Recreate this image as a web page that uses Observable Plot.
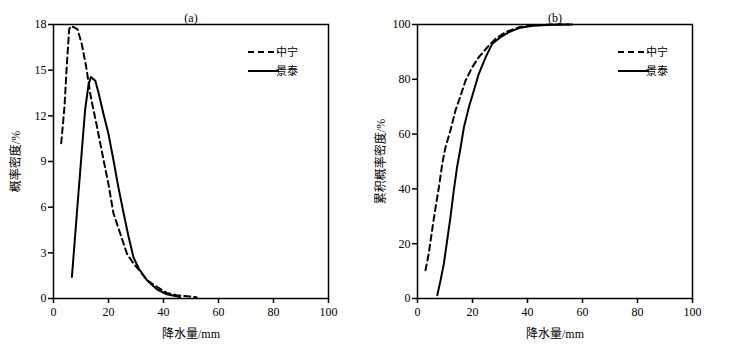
<!DOCTYPE html>
<html><head><meta charset="utf-8">
<script src="https://cdn.jsdelivr.net/npm/d3@7"></script>
<script src="https://cdn.jsdelivr.net/npm/@observablehq/plot@0.6"></script>
<style>
body{margin:0;background:#fff;}
#wrap{display:flex;flex-direction:row;width:744px;height:351px;}
svg, svg text{font-family:"Liberation Serif","Noto Sans CJK SC",serif !important;}
svg text{fill:#000;}
</style></head>
<body><div id="wrap"></div>
<script>
// Panel (a): probability density (%)
const pdfZnX = [2.8,4,4.8,5.7,6.4,8.7,10.3,11.9,13.6,15.8,18.2,20,21.8,24.2,26.7,29.1,31,34,37.6,41.2,44.8,48.5,52];
const pdfZnY = [10.2,12.6,15.2,17.7,17.9,17.7,16.7,15.2,13.2,11.3,9.1,7.5,5.6,4.3,2.95,2.3,1.9,1.2,0.77,0.37,0.22,0.15,0.08];
const pdfJtX = [6.7,8.5,10.3,11.5,12.7,13.6,15.2,16.4,18.2,20,21.8,23.6,25.5,27.3,29.1,31,34,37.6,41.2,46];
const pdfJtY = [1.42,5.6,9.7,12.4,14,14.55,14.3,13.5,12.1,10.8,9.1,7.3,5.6,4.05,2.7,1.97,1.2,0.6,0.28,0.1];
// Panel (b): cumulative probability (%)
const cdfZnX = [2.9,4.1,5.3,6.6,7.8,9,10.2,12,13.8,15.7,17.5,19.9,22.3,25.4,28.4,32,36.9,41.7,49,57.5];
const cdfZnY = [10.3,16.4,24.9,33.4,40.7,49.2,55.3,61.4,68.6,74.1,79.6,84.4,88.1,91.7,94.8,97.2,99,99.6,100,100];
const cdfJtX = [7.2,8.4,9.6,10.8,12,13.2,14.4,15.7,16.9,18.7,20.5,22.3,24.8,27.2,30.2,33.3,36.9,41.7,49,55];
const cdfJtY = [1.2,6.7,12.8,21.3,29.8,39.5,48,55.3,62.6,69.9,75.9,82,88.1,93,95.4,97.2,98.7,99.5,99.9,100];

const seriesNames = ["中宁","景泰"];
const xTicks = [0,20,40,60,80,100];
const yTicksA = [0,3,6,9,12,15,18];
const yTicksB = [0,20,40,60,80,100];

function rows(xs, ys){ return xs.map((x,i)=>({x, y: ys[i]})); }

function panel({title, ylabel, yDomain, yTicks, zn, jt, mLeft, mRight, yLabelOffset, legX}){
  const legend = [
    {name: seriesNames[0], dash: "6,4", ly: 52},
    {name: seriesNames[1], dash: null, ly: 71}
  ];
  return Plot.plot({
    width: 372, height: 351,
    marginLeft: mLeft, marginRight: mRight, marginTop: 24, marginBottom: 53,
    style: {fontSize: "12px", color: "#000", background: "#fff"},
    x: {domain: [0,100]},
    y: {domain: yDomain},
    marks: [
      Plot.axisX({ticks: xTicks, tickSize: 5, tickPadding: 4, label: "降水量/mm", labelAnchor: "center", labelOffset: 39, labelArrow: "none", fontSize: 12, strokeWidth: 1.5}),
      Plot.axisY({ticks: yTicks, tickSize: 5, tickPadding: 2, label: ylabel, labelAnchor: "center", labelOffset: yLabelOffset, labelArrow: "none", fontSize: 12, strokeWidth: 1.5}),
      Plot.frame({stroke: "#000", strokeWidth: 1.5}),
      Plot.line(rows(zn[0], zn[1]), {x: "x", y: "y", stroke: "#000", strokeWidth: 2, strokeDasharray: "6,4"}),
      Plot.line(rows(jt[0], jt[1]), {x: "x", y: "y", stroke: "#000", strokeWidth: 2}),
      Plot.text([title], {frameAnchor: "top", dy: -11, fontSize: 12, fill: "#000"}),
      () => {
        const g = d3.create("svg:g");
        legend.forEach(d => {
          g.append("line").attr("x1", legX).attr("x2", legX+31).attr("y1", d.ly).attr("y2", d.ly)
            .attr("stroke", "#000").attr("stroke-width", 2).attr("stroke-dasharray", d.dash);
          g.append("text").attr("x", legX+39).attr("y", d.ly).attr("dy", "0.35em")
            .attr("font-size", 11).attr("fill", "#000").text(d.name);
        });
        return g.node();
      }
    ]
  });
}

const wrap = document.getElementById("wrap");
wrap.append(panel({title: "(a)", ylabel: "概率密度/%", yDomain: [0,18], yTicks: yTicksA,
  zn: [pdfZnX, pdfZnY], jt: [pdfJtX, pdfJtY], mLeft: 53, mRight: 44, yLabelOffset: 42, legX: 248}));
wrap.append(panel({title: "(b)", ylabel: "累积概率密度/%", yDomain: [0,100], yTicks: yTicksB,
  zn: [cdfZnX, cdfZnY], jt: [cdfJtX, cdfJtY], mLeft: 45, mRight: 52, yLabelOffset: 41, legX: 246}));
</script></body></html>
